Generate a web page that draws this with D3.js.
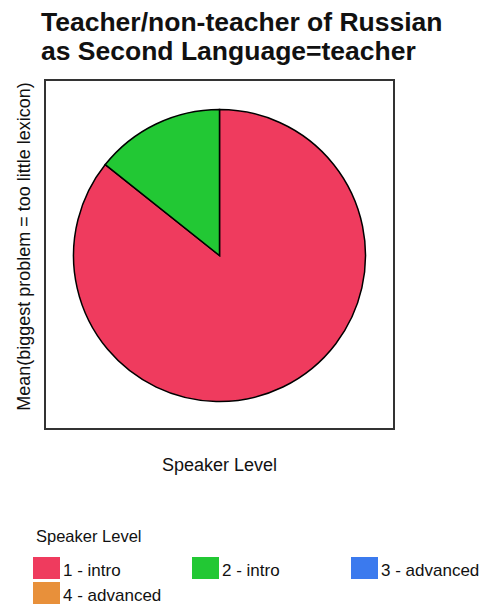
<!DOCTYPE html>
<html><head><meta charset="utf-8">
<script src="https://cdn.jsdelivr.net/npm/d3@7"></script>
<style>body{margin:0;background:#fff}svg{display:block}text{font-family:"Liberation Sans",Arial,sans-serif;fill:#111}</style>
</head><body>
<script>
const categories = ["1 - intro", "2 - intro", "3 - advanced", "4 - advanced"];
const values = [0.857, 0.143, 0, 0];
const colors = ["#EF3B5E", "#22C834", "#3B7AEE", "#E8903A"];
const titleLines = ["Teacher/non-teacher of Russian", "as Second Language=teacher"];
const xLabel = "Speaker Level";
const yLabel = "Mean(biggest problem = too little lexicon)";

const W = 492, H = 604;
const svg = d3.select("body").append("svg").attr("width", W).attr("height", H);

svg.selectAll("text.title").data(titleLines).join("text")
  .attr("class","title").attr("x", 41).attr("y", (d,i)=>31+i*29)
  .style("font-size","26.5px").style("font-weight","bold").text(d=>d);

const box = {x:45, y:80, w:349, h:349};
svg.append("rect").attr("x",box.x).attr("y",box.y).attr("width",box.w).attr("height",box.h)
  .attr("fill","none").attr("stroke","#333").attr("stroke-width",2);

const cx = box.x + box.w/2, cy = box.y + box.h/2 + 1, r = 146;
const data = categories.map((c,i)=>({cat:c, v:values[i], col:colors[i]}));
const pie = d3.pie().sort(null).value(d=>d.v);
const arc = d3.arc().innerRadius(0).outerRadius(r);
const color = d3.scaleOrdinal().domain(categories).range(colors);
svg.append("g").attr("transform",`translate(${cx},${cy})`)
  .selectAll("path").data(pie(data).filter(d=>d.data.v>0)).join("path")
  .attr("d",arc).attr("fill",d=>color(d.data.cat)).attr("stroke","#000").attr("stroke-width",1.5);

svg.append("text").attr("x",cx).attr("y",471).attr("text-anchor","middle")
  .style("font-size","18px").text(xLabel);
svg.append("text").attr("transform",`translate(30,${box.y+box.h/2-8}) rotate(-90)`)
  .attr("text-anchor","middle").style("font-size","18px").text(yLabel);

svg.append("text").attr("x",36).attr("y",542).style("font-size","16.5px").text("Speaker Level");
const cols = [33, 192, 351];
const leg = svg.selectAll("g.leg").data(categories).join("g").attr("class","leg")
  .attr("transform",(d,i)=>`translate(${cols[i%3]},${557+Math.floor(i/3)*25})`);
leg.append("rect").attr("width",27).attr("height",22).attr("fill",d=>color(d));
leg.append("text").attr("x",30).attr("y",19).style("font-size","17px").text(d=>d);
</script>
</body></html>
